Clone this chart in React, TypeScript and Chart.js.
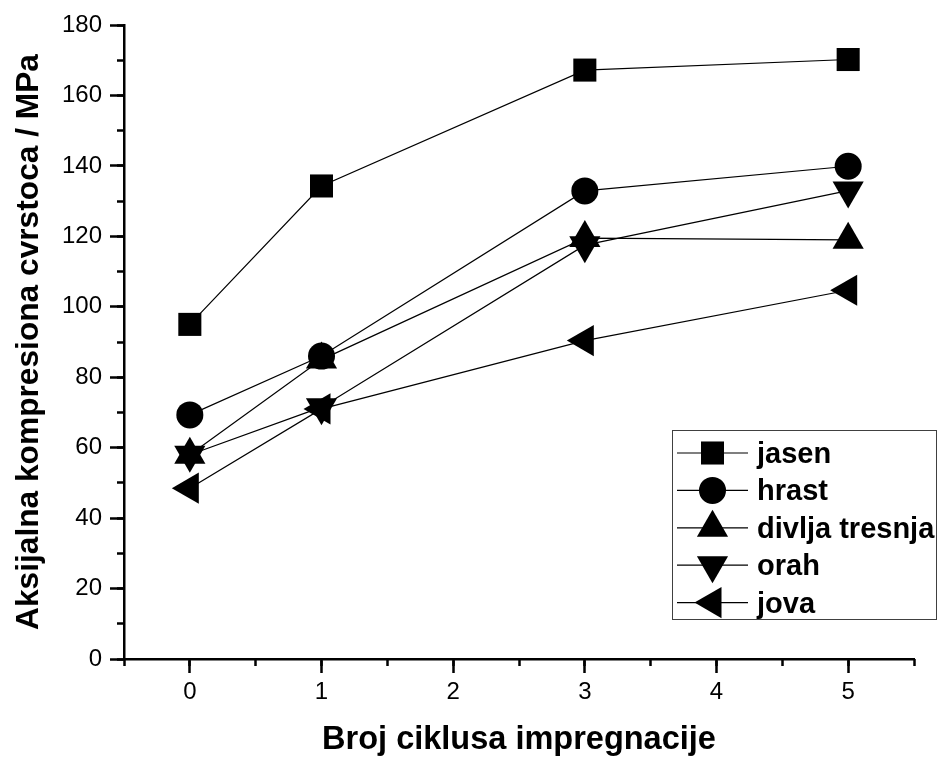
import React, { useEffect, useRef } from "react";
import { Chart, registerables } from "chart.js";
import * as helpers from "chart.js/helpers";

Chart.register(...registerables);

// ---- data ----
const cycles = [0, 1, 3, 5];
const seriesNames = ["jasen", "hrast", "divlja tresnja", "orah", "jova"];
const jasen = [95, 134.3, 167.2, 170.2];
const hrast = [69.3, 86, 132.9, 139.9];
const divljaTresnja = [58, 85, 119.5, 119];
const orah = [58, 71.5, 117.5, 133];
const jova = [48.5, 71, 90.4, 104.7];

const xMajorTicks = [0, 1, 2, 3, 4, 5];
const xMinorTicks = [-0.5, 0, 0.5, 1, 1.5, 2, 2.5, 3, 3.5, 4, 4.5, 5, 5.5];
const yMajorTicks = [0, 20, 40, 60, 80, 100, 120, 140, 160, 180];
const yMinorTicks = [0, 10, 20, 30, 40, 50, 60, 70, 80, 90, 100, 110, 120, 130, 140, 150, 160, 170, 180];

const xTitle = "Broj ciklusa impregnacije";
const yTitle = "Aksijalna kompresiona cvrstoca / MPa";

const FONT = "'Liberation Sans', Arial, Helvetica, sans-serif";

const markerStyles = [
  { pointStyle: "rect", rotation: 0, radius: 16.3 },
  { pointStyle: "circle", rotation: 0, radius: 13.5 },
  { pointStyle: "triangle", rotation: 0, radius: 18 },
  { pointStyle: "triangle", rotation: 180, radius: 18 },
  { pointStyle: "triangle", rotation: -90, radius: 18 },
];

const seriesValues = [jasen, hrast, divljaTresnja, orah, jova];

const boxLegend = {
  id: "boxLegend",
  afterDraw(chart: any) {
    const { ctx, chartArea } = chart;
    const left = chartArea.right - 242;
    const top = chartArea.bottom - 229;
    const w = 265;
    const h = 190;
    ctx.save();
    ctx.fillStyle = "#ffffff";
    ctx.fillRect(left, top, w, h);
    ctx.strokeStyle = "#404040";
    ctx.lineWidth = 1;
    ctx.strokeRect(left + 0.5, top + 0.5, w - 1, h - 1);
    chart.data.datasets.forEach((ds: any, i: number) => {
      const cy = top + 23 + i * 37.4;
      ctx.strokeStyle = "#000";
      ctx.lineWidth = 1.2;
      ctx.beginPath();
      ctx.moveTo(left + 5, cy);
      ctx.lineTo(left + 76, cy);
      ctx.stroke();
      ctx.fillStyle = "#000";
      helpers.drawPoint(
        ctx,
        { pointStyle: ds.pointStyle, rotation: ds.pointRotation, radius: ds.pointRadius, borderWidth: 0 },
        left + 40.5,
        cy
      );
      ctx.fillStyle = "#000";
      ctx.font = `bold 29px ${FONT}`;
      ctx.textAlign = "left";
      ctx.textBaseline = "alphabetic";
      ctx.fillText(ds.label, left + 85, cy + 10);
    });
    ctx.restore();
  },
};

export default function App() {
  const ref = useRef<HTMLCanvasElement>(null);
  useEffect(() => {
    if (!ref.current) return;
    const datasets = seriesNames.map((name, i) => ({
      label: name,
      data: cycles.map((c, j) => ({ x: c, y: seriesValues[i][j] })),
      showLine: true,
      borderColor: "#000",
      borderWidth: 1.2,
      backgroundColor: "#000",
      pointBackgroundColor: "#000",
      pointBorderColor: "#000",
      pointBorderWidth: 0,
      pointStyle: markerStyles[i].pointStyle,
      pointRotation: markerStyles[i].rotation,
      pointRadius: markerStyles[i].radius,
      pointHoverRadius: markerStyles[i].radius,
      xAxisID: "x",
      yAxisID: "y",
    }));
    const tickFont = { family: FONT, size: 24 };
    const chart = new Chart(ref.current, {
      type: "scatter",
      data: { datasets },
      plugins: [boxLegend],
      options: {
        animation: false,
        responsive: false,
        layout: { padding: { top: 25, right: 24, left: 0, bottom: 0 } },
        plugins: { legend: { display: false }, tooltip: { enabled: false } },
        scales: {
          x: {
            type: "linear",
            position: "bottom",
            weight: 1,
            min: -0.5,
            max: 5.5,
            afterBuildTicks: (s: any) => {
              s.ticks = xMajorTicks.map((v) => ({ value: v }));
            },
            afterFit: (s: any) => {
              s.height = 99;
            },
            grid: { drawOnChartArea: false, tickLength: 14, tickWidth: 2.5, tickColor: "#000" },
            border: { display: true, color: "#000", width: 2.5 },
            ticks: { color: "#000", font: tickFont, padding: 5, maxRotation: 0, autoSkip: false },
            title: {
              display: true,
              text: xTitle,
              color: "#000",
              font: { family: FONT, size: 32.5, weight: "bold" },
              padding: { top: 0, bottom: -2 },
            },
          },
          xMinor: {
            type: "linear",
            position: "bottom",
            weight: 0,
            min: -0.5,
            max: 5.5,
            afterBuildTicks: (s: any) => {
              s.ticks = xMinorTicks.map((v) => ({ value: v }));
            },
            afterFit: (s: any) => {
              s.height = 0;
            },
            grid: { drawOnChartArea: false, tickLength: 7, tickWidth: 2.5, tickColor: "#000" },
            border: { display: false },
            ticks: { display: false },
          },
          y: {
            type: "linear",
            position: "left",
            weight: 1,
            min: 0,
            max: 180,
            afterBuildTicks: (s: any) => {
              s.ticks = yMajorTicks.map((v) => ({ value: v }));
            },
            afterFit: (s: any) => {
              s.width = 124;
            },
            grid: { drawOnChartArea: false, tickLength: 14, tickWidth: 2.5, tickColor: "#000" },
            border: { display: true, color: "#000", width: 2.5 },
            ticks: { color: "#000", font: tickFont, padding: 8 },
            title: {
              display: true,
              text: yTitle,
              color: "#000",
              font: { family: FONT, size: 31.7, weight: "bold" },
              padding: { top: 10, bottom: 0 },
            },
          },
          yMinor: {
            type: "linear",
            position: "left",
            weight: 0,
            min: 0,
            max: 180,
            afterBuildTicks: (s: any) => {
              s.ticks = yMinorTicks.map((v) => ({ value: v }));
            },
            afterFit: (s: any) => {
              s.width = 0;
            },
            grid: { drawOnChartArea: false, tickLength: 7, tickWidth: 2.5, tickColor: "#000" },
            border: { display: false },
            ticks: { display: false },
          },
        },
      } as any,
    });
    return () => chart.destroy();
  }, []);
  return (
    <div style={{ position: "absolute", left: 0, top: 0, width: 938, height: 758, background: "#fff" }}>
      <canvas ref={ref} width={938} height={758} style={{ display: "block" }} />
    </div>
  );
}
